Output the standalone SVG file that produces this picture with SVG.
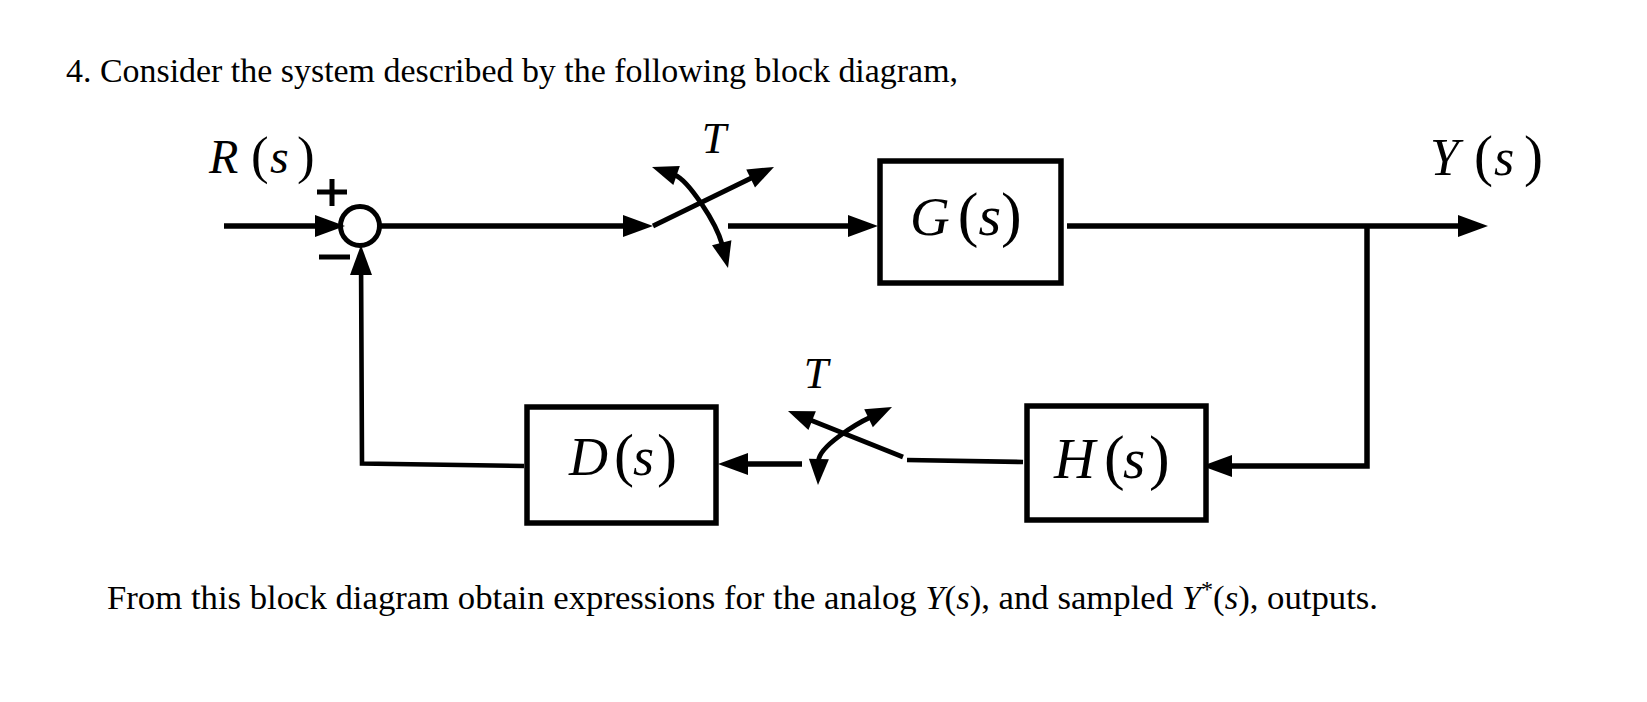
<svg xmlns="http://www.w3.org/2000/svg" width="1647" height="702" viewBox="0 0 1647 702" xmlns:xlink="http://www.w3.org/1999/xlink">
<style>
text{font-family:"Liberation Serif","Times New Roman",serif;fill:#000}
.i{font-style:italic}
.ln{fill:none;stroke:#000;stroke-width:5.5}
.thin{fill:none;stroke:#000;stroke-width:4.6}
.sw{fill:none;stroke:#000;stroke-width:4.8}
.box{fill:#fff;stroke:#000;stroke-width:5.5}
.hd{fill:#000}
</style>
<defs>
<path id="ah" d="M-30,-11 L0,0 L-30,11 z"/>
<path id="sh" d="M-26,-10 L0,0 L-26,10 z"/>
</defs>
<rect width="1647" height="702" fill="#fff"/>
<text x="66" y="82" font-size="33" textLength="892" lengthAdjust="spacingAndGlyphs">4. Consider the system described by the following block diagram,</text>
<g id="connectors">
<path class="ln" d="M224,226 H337"/>
<use class="hd" href="#ah" xlink:href="#ah" transform="translate(345,226)"/>
<path class="ln" d="M380,226 H645"/>
<use class="hd" href="#ah" xlink:href="#ah" transform="translate(653,226)"/>
<path class="ln" d="M728,226 H870"/>
<use class="hd" href="#ah" xlink:href="#ah" transform="translate(878,226)"/>
<path class="ln" d="M1067,226 H1480"/>
<use class="hd" href="#ah" xlink:href="#ah" transform="translate(1488,226)"/>
<path class="ln" d="M1367,226 V466 H1210"/>
<use class="hd" href="#ah" xlink:href="#ah" transform="translate(1202,466) rotate(180)"/>
<path class="thin" d="M1023,462 L907,460"/>
<path class="ln" d="M802,464 H726"/>
<use class="hd" href="#ah" xlink:href="#ah" transform="translate(718,464) rotate(180)"/>
<path class="thin" d="M524,466 L362,463.5 L361,253"/>
<use class="hd" href="#ah" xlink:href="#ah" transform="translate(361,245) rotate(-90)"/>
</g>
<g id="sum">
<circle cx="360" cy="226" r="19.5" fill="none" stroke="#000" stroke-width="5"/>
<path d="M317,192 H347 M332,179 V206 M319,257 H350" stroke="#000" stroke-width="5" fill="none"/>
</g>
<g id="switch1">
<path class="sw" d="M653,226 L752.4,177.5"/>
<use class="hd" href="#sh" xlink:href="#sh" transform="translate(774,167) rotate(-26)"/>
<path class="sw" d="M674.7,174.9 C688,180 716,222 722.2,244.7"/>
<use class="hd" href="#sh" xlink:href="#sh" transform="translate(652,167) rotate(199)"/>
<use class="hd" href="#sh" xlink:href="#sh" transform="translate(728,268) rotate(76)"/>
<text x="714" y="153" font-size="44" class="i" text-anchor="middle">T</text>
</g>
<g id="switch2">
<path class="sw" d="M903,457 L810.3,419.9"/>
<use class="hd" href="#sh" xlink:href="#sh" transform="translate(788,411) rotate(201.8)"/>
<path class="sw" d="M818.5,461 C819,446 858,423 870.4,417.3"/>
<use class="hd" href="#sh" xlink:href="#sh" transform="translate(818,485) rotate(92)"/>
<use class="hd" href="#sh" xlink:href="#sh" transform="translate(892,407) rotate(-25.5)"/>
<text x="816" y="388" font-size="44" class="i" text-anchor="middle">T</text>
</g>
<g id="G">
<rect class="box" x="880" y="161" width="181" height="122"/>
<text x="910" y="235"><tspan class="i" font-size="55">G</tspan><tspan dx="8" font-size="62">(</tspan><tspan class="i" font-size="58">s</tspan><tspan font-size="62">)</tspan></text>
</g>
<g id="H">
<rect class="box" x="1027" y="406" width="179" height="114"/>
<text y="478"><tspan x="1054" class="i" font-size="57">H</tspan><tspan x="1104" font-size="62">(</tspan><tspan x="1123" class="i" font-size="57">s</tspan><tspan x="1149" font-size="62">)</tspan></text>
</g>
<g id="D">
<rect class="box" x="527" y="407" width="189" height="116"/>
<text y="475"><tspan x="569" class="i" font-size="54">D</tspan><tspan x="614" font-size="60">(</tspan><tspan x="633" class="i" font-size="54">s</tspan><tspan x="657" font-size="60">)</tspan></text>
</g>
<g id="R">
<text y="173"><tspan x="209" class="i" font-size="48">R</tspan><tspan x="251" font-size="53">(</tspan><tspan x="270" class="i" font-size="48">s</tspan><tspan x="297" font-size="53">)</tspan></text>
</g>
<g id="Y">
<text y="175"><tspan x="1430" class="i" font-size="52">Y</tspan><tspan x="1474" font-size="57">(</tspan><tspan x="1494" class="i" font-size="52">s</tspan><tspan x="1524" font-size="57">)</tspan></text>
</g>
<text x="107" y="609" font-size="33" textLength="1271" lengthAdjust="spacingAndGlyphs">From this block diagram obtain expressions for the analog <tspan class="i">Y</tspan>(<tspan class="i">s</tspan>), and sampled <tspan class="i">Y</tspan><tspan dy="-12" font-size="23">*</tspan><tspan dy="12">(</tspan><tspan class="i">s</tspan>), outputs.</text>
</svg>
